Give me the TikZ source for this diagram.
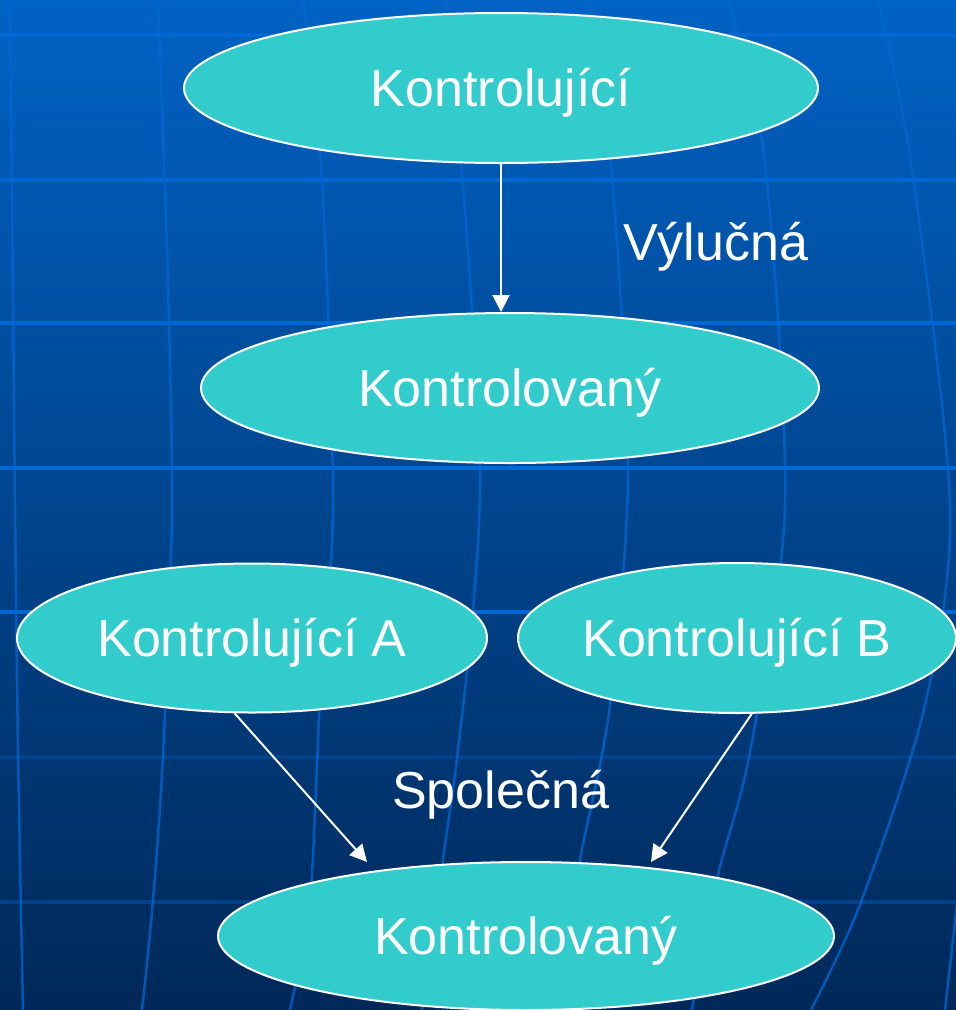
\documentclass[tikz,border=0pt]{standalone}
\usepackage{fontspec}
\setmainfont{Liberation Sans}
\usetikzlibrary{shapes.geometric,arrows.meta}
\definecolor{ovalfill}{RGB}{51,204,204}
\definecolor{bgtop}{RGB}{0,98,196}
\definecolor{bgmid}{RGB}{0,74,148}
\definecolor{bgbot}{RGB}{0,40,88}
\definecolor{gridc}{RGB}{0,104,212}
\begin{document}
\begin{tikzpicture}[x=1pt,y=-1pt,
  oval/.style={ellipse, draw=white, line width=2pt, fill=ovalfill, inner sep=0pt,
    text=white, font=\fontsize{52}{60}\selectfont, text height=37pt, text depth=0pt},
  arr/.style={draw=white, line width=2pt, -{Triangle[length=17pt,width=17pt]}},
  lbl/.style={text=white, font=\fontsize{52}{60}\selectfont, anchor=base west, inner sep=0pt},
  hgrid/.style={draw=gridc, line width=3.5pt},
  vgrid/.style={draw=gridc, line width=2.5pt, opacity=0.75}]
\useasboundingbox (0,0) rectangle (956,1010);
\shade[top color=bgtop, middle color=bgmid, bottom color=bgbot] (0,0) rectangle (956,1010);
% horizontal grid lines
\foreach \yy in {35,180,323,468,612} \draw[hgrid] (0,\yy) -- (956,\yy);
\draw[hgrid, opacity=0.25] (0,757) -- (956,757);
\draw[hgrid, opacity=0.35] (0,902) -- (956,902);
% vertical (curved) grid lines
\draw[vgrid] plot[smooth] coordinates {(10,0) (13,300) (15,505) (18,750) (23,1010)};
\draw[vgrid] plot[smooth] coordinates {(158,0) (167,250) (172,505) (163,755) (153,900) (142,1010)};
\draw[vgrid] plot[smooth] coordinates {(303,0) (322,180) (333,505) (320,700) (310,900) (290,1010)};
\draw[vgrid] plot[smooth] coordinates {(447,0) (468,250) (480,469) (473,610) (457,758) (443,859) (422,1010)};
\draw[vgrid] plot[smooth] coordinates {(588,0) (611,163) (628,469) (610,705) (580,859) (552,1010)};
\draw[vgrid] plot[smooth] coordinates {(728,0) (765,163) (785,505) (750,752) (718,875) (692,1010)};
\draw[vgrid] plot[smooth] coordinates {(878,0) (911,163) (950,505) (925,705) (861,902) (811,1010)};
\draw[vgrid] plot[smooth] coordinates {(962,860) (945,1010)};
% nodes
\node[oval, minimum width=634pt, minimum height=150pt] (k1) at (501,88) {Kontrolující};
\node[oval, minimum width=618pt, minimum height=150pt] (k2) at (510,388) {Kontrolovaný};
\node[oval, minimum width=470pt, minimum height=149pt] (kA) at (252,638) {Kontrolující A};
\node[oval, minimum width=438pt, minimum height=150pt] (kB) at (737,638) {Kontrolující B};
\node[oval, minimum width=616pt, minimum height=148pt] (k5) at (526,936) {Kontrolovaný};
\node[lbl] (vyl) at (623,260) {Výlučná};
\node[lbl] (spol) at (392,808) {Společná};
% connectors
\draw[arr] (k1.south) -- (k1.south |- k2.north);
\coordinate (tA) at (367,862);
\coordinate (tB) at (651,862);
\draw[arr] (kA.257) -- (tA);
\draw[arr] (kB.281) -- (tB);
\end{tikzpicture}
\end{document}
